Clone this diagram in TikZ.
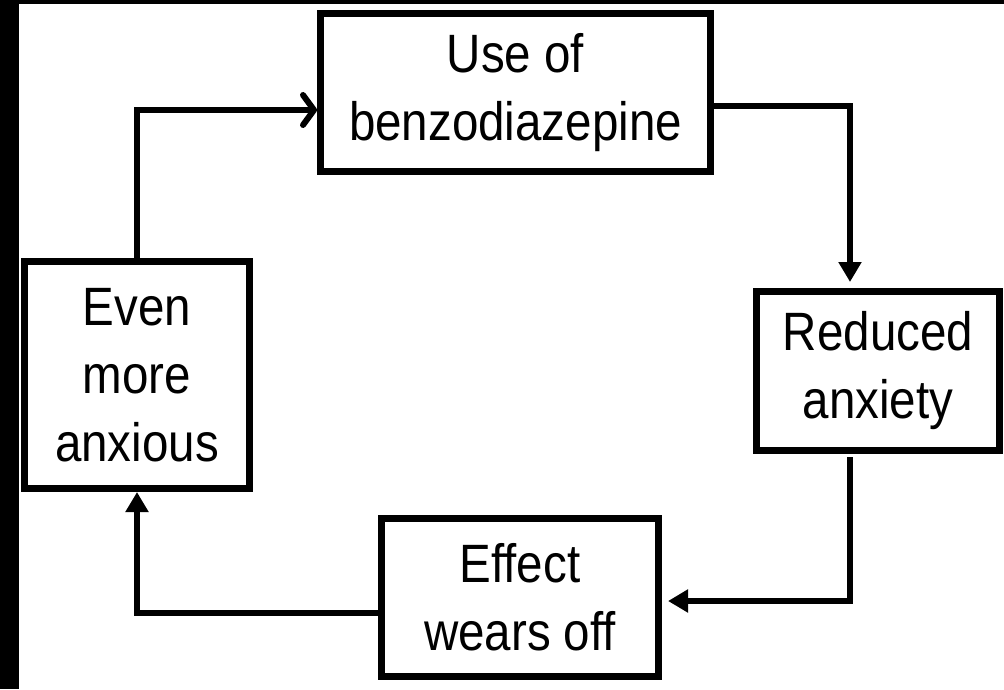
\documentclass[tikz,border=0pt]{standalone}
\usepackage{fontspec}
\setmainfont{Liberation Sans}[FakeStretch=0.88]
\usetikzlibrary{arrows.meta,calc}
\begin{document}
\begin{tikzpicture}[x=1pt,y=-1pt,
  box/.style={draw=black, line width=7pt, rectangle, inner sep=0pt, align=center,
    font=\fontsize{54}{68}\selectfont},
  conn/.style={line width=6pt, draw=black},
  tri/.style={conn, -{Triangle[length=20pt,width=22pt]}},
  barb/.style={conn, -{Straight Barb[length=11pt,width=30pt,round]}}
]
\useasboundingbox (0,0) rectangle (1004,689);
\fill[white] (0,0) rectangle (1004,689);
\fill[black] (0,0) rectangle (19,689);
\fill[black] (0,0) rectangle (1004,4);

\node[box, minimum width=390pt, minimum height=158pt] (use) at (515.5,92.5) {Use of\\benzodiazepine};
\node[box, minimum width=243pt, minimum height=159pt] (red) at (878,371) {Reduced\\anxiety};
\node[box, minimum width=277pt, minimum height=158pt] (eff) at (520,597.5) {Effect\\wears off};
\node[box, minimum width=225pt, minimum height=227pt] (even) at (137,375) {Even\\more\\anxious};

\coordinate (k1) at (137,110);
\coordinate (k2) at (850,106);
\coordinate (k3) at (850,601);
\coordinate (k4) at (137,613);

\draw[barb] (even.north) -- (k1) -- (k1 -| use.west);
\draw[tri, shorten >=6pt] (k2 -| use.east) -- (k2) -- (k2 |- red.north);
\draw[tri, shorten >=6pt] ($(k3 |- red.south)+(0,3)$) -- (k3) -- (k3 -| eff.east);
\draw[tri] (k4 -| eff.west) -- (k4) -- (k4 |- even.south);
\end{tikzpicture}
\end{document}
